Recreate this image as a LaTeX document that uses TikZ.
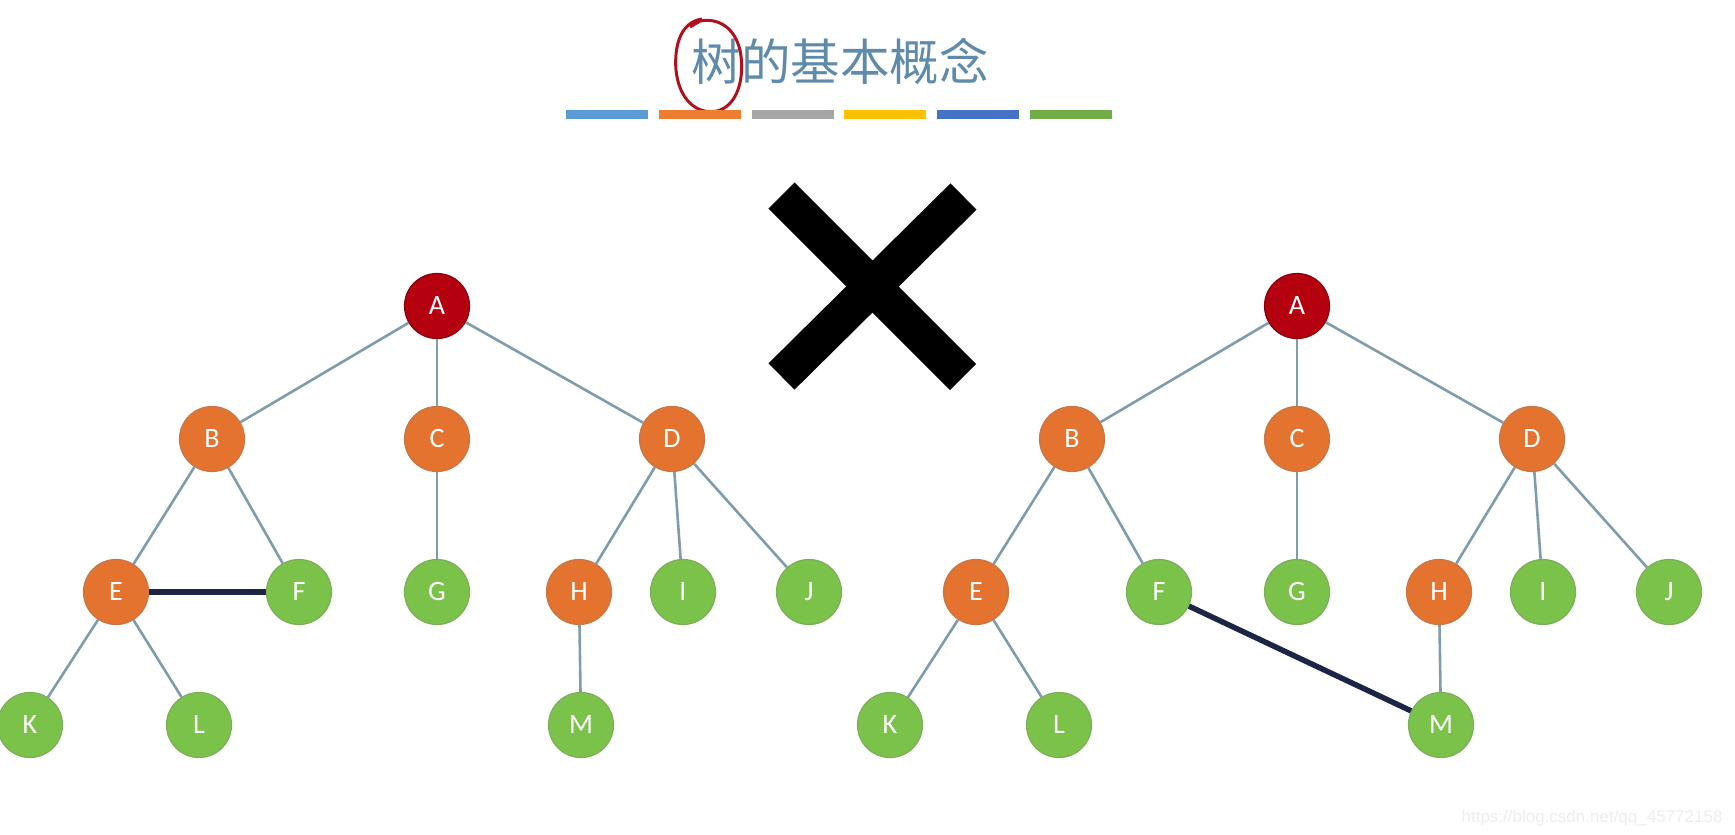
\documentclass[tikz,border=0pt]{standalone}
\usepackage{fontspec}
\setmainfont{Carlito}
\newfontfamily\cjk{Noto Sans CJK SC}
\newfontfamily\urlfont{Liberation Sans}
\definecolor{rootred}{HTML}{B5000F}
\definecolor{midorange}{HTML}{E4732F}
\definecolor{leafgreen}{HTML}{7BC24A}
\definecolor{edgegray}{HTML}{7F9CAD}
\definecolor{darkedge}{HTML}{1C2545}
\definecolor{titleblue}{HTML}{5E8AAB}
\definecolor{markred}{HTML}{B3101E}

\begin{document}
\begin{tikzpicture}[x=1pt, y=-1pt,
  treenode/.style={circle, minimum size=65pt, inner sep=0pt, text=white,
    font=\fontsize{28}{28}\selectfont, line width=1.2pt},
  rootnode/.style={treenode, fill=rootred, draw=rootred!75!black},
  midnode/.style={treenode, fill=midorange, draw=midorange!70!gray},
  leafnode/.style={treenode, fill=leafgreen, draw=leafgreen!70!gray},
  treeedge/.style={draw=edgegray, line width=2.6pt},
  wrongedge/.style={draw=darkedge, line width=5.5pt}]
\useasboundingbox (0,0) rectangle (1735,835);

% title
\node[font=\cjk\fontsize{49.5}{49.5}\selectfont, text=titleblue] (title) at (840,61) {树的基本概念};
\draw[markred, line width=3pt] (702,19) .. controls (681,22) and (674,45) .. (676,70)
  .. controls (679,100) and (697,115) .. (717,111)
  .. controls (737,106) and (744,80) .. (741,56)
  .. controls (738,32) and (722,17) .. (700,21) -- (690,27);
\foreach \c [count=\i from 0] in {5B9BD5, ED7D31, A5A5A5, FFC000, 4472C4, 70AD47} {
  \definecolor{barcol}{HTML}{\c}
  \fill[barcol] (566+92.8*\i,110) rectangle ++(82,9);
}

% the cross
\draw[line width=37pt] (781.5,195.5) -- (963,377);
\draw[line width=37pt] (963.5,196.5) -- (781.5,376.5);

% two trees, the same but for one extra edge
\foreach \t/\dx in {l/0, r/860} {
  \begin{scope}[xshift=\dx pt]
    \node[rootnode] (\t A) at (437,306) {A};
    \node[midnode] (\t B) at (212,439) {B};
    \node[midnode] (\t C) at (437,439) {C};
    \node[midnode] (\t D) at (672,439) {D};
    \node[midnode] (\t E) at (116,592) {E};
    \node[leafnode] (\t F) at (299,592) {F};
    \node[leafnode] (\t G) at (437,592) {G};
    \node[midnode] (\t H) at (579,592) {H};
    \node[leafnode] (\t I) at (683,592) {I};
    \node[leafnode] (\t J) at (809,592) {J};
    \node[leafnode] (\t K) at (30,725) {K};
    \node[leafnode] (\t L) at (199,725) {L};
    \node[leafnode] (\t M) at (581,725) {M};
  \end{scope}
  \foreach \p/\q in {A/B, A/C, A/D, B/E, B/F, C/G, D/H, D/I, D/J, E/K, E/L, H/M}
    \draw[treeedge] (\t\p) -- (\t\q);
}
\draw[wrongedge] (lE) -- (lF);
\draw[wrongedge] (rF) -- (rM);

% watermark
\node[font=\urlfont\fontsize{17}{17}\selectfont, text=black!7, anchor=east] (mark) at (1726,818) {https://blog.csdn.net/qq\_45772158};
\end{tikzpicture}
\end{document}
